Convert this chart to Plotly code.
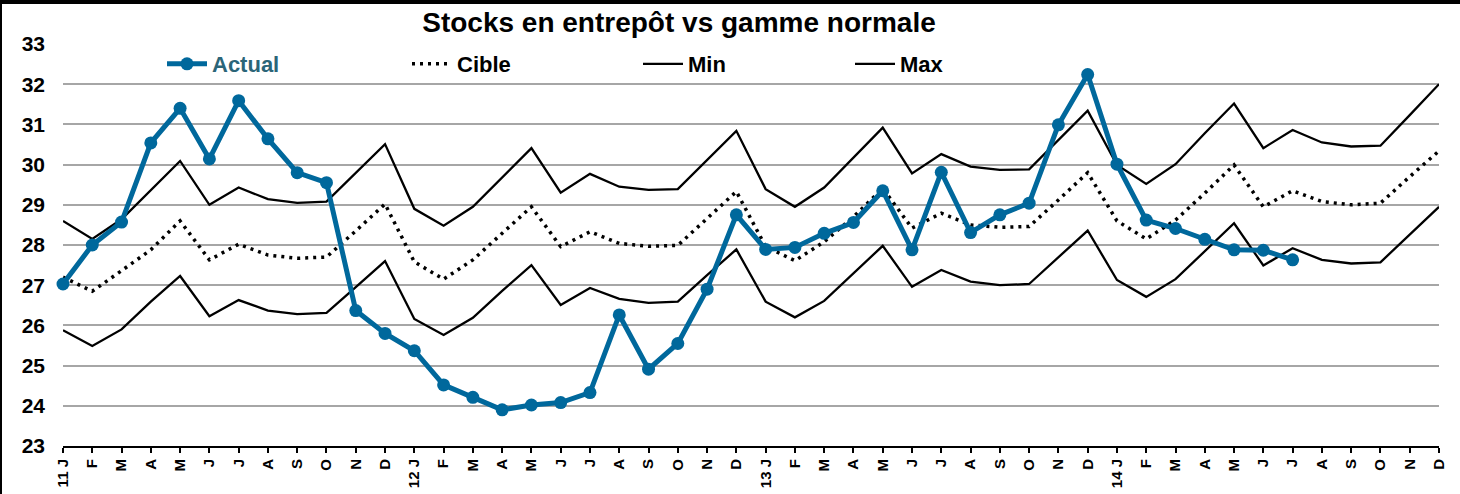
import plotly.graph_objects as go

months = ["J", "F", "M", "A", "M", "J", "J", "A", "S", "O", "N", "D"]
years = ["11", "12", "13", "14"]
tick_labels = []
for y in years:
    for k, m in enumerate(months):
        tick_labels.append(f"{y} {m}" if k == 0 else m)
x_idx = list(range(len(tick_labels)))

actual = [27.03, 28.00, 28.57, 30.54, 31.40, 30.14, 31.59, 30.64, 29.80, 29.55, 26.37, 25.80,
          25.37, 24.52, 24.21, 23.90, 24.02, 24.08, 24.33, 26.26, 24.91, 25.55, 26.90, 28.75,
          27.89, 27.94, 28.29, 28.56, 29.35, 27.88, 29.81, 28.31, 28.75, 29.04, 30.99, 32.24,
          30.01, 28.62, 28.41, 28.14, 27.88, 27.87, 27.63, None, None, None, None, None]
cible = [27.20, 26.85, 27.36, 27.88, 28.60, 27.63, 28.02, 27.75, 27.67, 27.70, 28.35, 29.02,
         27.58, 27.15, 27.63, 28.30, 28.95, 27.96, 28.33, 28.04, 27.97, 27.99, 28.67, 29.33,
         27.96, 27.61, 28.08, 28.70, 29.41, 28.42, 28.79, 28.50, 28.44, 28.46, 29.12, 29.80,
         28.60, 28.15, 28.62, 29.29, 29.99, 28.95, 29.35, 29.08, 29.00, 29.04, 29.70, 30.34]
vmin = [25.88, 25.49, 25.90, 26.59, 27.23, 26.23, 26.63, 26.37, 26.28, 26.31, 26.95, 27.60,
        26.16, 25.76, 26.19, 26.86, 27.50, 26.51, 26.93, 26.66, 26.56, 26.59, 27.25, 27.89,
        26.59, 26.20, 26.61, 27.30, 27.98, 26.96, 27.38, 27.09, 27.00, 27.03, 27.69, 28.36,
        27.13, 26.71, 27.15, 27.85, 28.54, 27.49, 27.92, 27.63, 27.54, 27.57, 28.27, 28.95]
vmax = [28.60, 28.15, 28.64, 29.37, 30.09, 29.00, 29.43, 29.14, 29.05, 29.08, 29.80, 30.51,
        28.90, 28.48, 28.95, 29.69, 30.41, 29.30, 29.77, 29.45, 29.37, 29.39, 30.11, 30.84,
        29.39, 28.95, 29.43, 30.18, 30.92, 29.78, 30.26, 29.95, 29.87, 29.88, 30.61, 31.34,
        29.99, 29.52, 30.01, 30.78, 31.52, 30.41, 30.86, 30.55, 30.45, 30.47, 31.23, 32.00]

FONT = "Liberation Sans, Arial, sans-serif"
BLUE = "#00689C"

fig = go.Figure()
fig.add_trace(go.Scatter(x=x_idx, y=cible, mode="lines", name="Cible", legend="legend2",
                         showlegend=True,
                         line=dict(color="black", width=3.5, dash="3px,5px")))
fig.add_trace(go.Scatter(x=x_idx, y=vmin, mode="lines", name="Min", legend="legend3",
                         showlegend=True, line=dict(color="black", width=2.3)))
fig.add_trace(go.Scatter(x=x_idx, y=vmax, mode="lines", name="Max", legend="legend4",
                         showlegend=True, line=dict(color="black", width=2.3)))
fig.add_trace(go.Scatter(x=x_idx, y=actual, mode="lines+markers",
                         name='<span style="color:#2B6578">Actual</span>', legend="legend",
                         showlegend=True,
                         line=dict(color=BLUE, width=5), marker=dict(size=13, color=BLUE),
                         cliponaxis=False))

W, H = 1460, 494
L, R, T, B = 63, 21, 44, 48
pw, ph = W - L - R, H - T - B

def px_x(px):
    return (px - L) / pw

def px_y(py):
    return (H - B - py) / ph

leg_common = dict(orientation="h", yanchor="middle", y=px_y(64), xanchor="left",
                  bgcolor="rgba(0,0,0,0)", font=dict(family=FONT, size=22, color="black", weight=700),
                  itemwidth=40)

fig.update_layout(
    width=W, height=H,
    showlegend=True,
    margin=dict(l=L, r=R, t=T, b=B, autoexpand=False),
    paper_bgcolor="white", plot_bgcolor="white",
    title=dict(text="Stocks en entrepôt vs gamme normale", x=679 / W, xref="container", xanchor="center",
               y=1 - 22 / H, yref="container", yanchor="middle",
               font=dict(family=FONT, size=28, color="black", weight=700)),
    legend=dict(leg_common, x=px_x(162)),
    legend2=dict(leg_common, x=px_x(407)),
    legend3=dict(leg_common, x=px_x(638)),
    legend4=dict(leg_common, x=px_x(850)),
    xaxis=dict(range=[0, 47], tickmode="array", tickvals=x_idx, ticktext=tick_labels,
               tickangle=-90, showgrid=False, zeroline=False, showline=True, linecolor="black",
               linewidth=2, ticks="outside", ticklen=5, tickwidth=2, tickcolor="black",
               automargin=False,
               tickfont=dict(family=FONT, size=15, color="black", weight=700)),
    yaxis=dict(range=[23, 33], dtick=1, tick0=23, showgrid=True, gridcolor="#A6A6A6", gridwidth=2,
               zeroline=False, showline=False, ticks="", ticklabelstandoff=17, automargin=False,
               tickfont=dict(family=FONT, size=21, color="black", weight=700)),
    shapes=[
        dict(type="line", xref="paper", yref="paper", x0=px_x(0), x1=px_x(W), y0=px_y(2), y1=px_y(2),
             line=dict(color="black", width=4)),
        dict(type="line", xref="paper", yref="paper", x0=px_x(1), x1=px_x(1), y0=px_y(H), y1=px_y(0),
             line=dict(color="black", width=2)),
    ],
)

fig.write_html("out.html", config={"displayModeBar": False},
               post_script="document.body.style.margin='0';document.body.style.padding='0';")
